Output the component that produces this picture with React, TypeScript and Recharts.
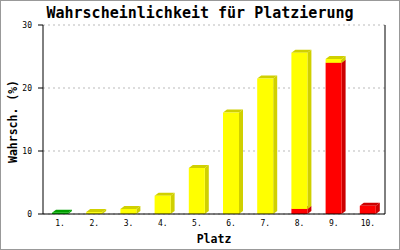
import React from "react";
import { BarChart, Bar, XAxis, YAxis, CartesianGrid } from "recharts";

const places = ["1.", "2.", "3.", "4.", "5.", "6.", "7.", "8.", "9.", "10."];
const redValues = [0, 0, 0, 0, 0, 0, 0, 0.8, 24.0, 1.3];
const yellowValues = [0, 0.3, 0.8, 2.9, 7.3, 16.1, 21.5, 24.8, 0.6, 0];
const greenValues = [0.2, 0, 0, 0, 0, 0, 0, 0, 0, 0];
const yTicks = [0, 10, 20, 30];

const data = places.map((p, i) => ({
  place: p,
  red: redValues[i],
  yellow: yellowValues[i],
  green: greenValues[i],
}));

const DX = 4;
const DY = 3;

function make3D(front: string, dark: string) {
  return (props: any) => {
    const { x, y, width, height } = props;
    if (!height || height < 0.3) return <g />;
    const w = width;
    const side = `${x + w},${y + height} ${x + w + DX},${y + height - DY} ${x + w + DX},${y - DY} ${x + w},${y}`;
    const top = `${x},${y} ${x + DX},${y - DY} ${x + w + DX},${y - DY} ${x + w},${y}`;
    return (
      <g>
        <polygon points={side} fill={dark} />
        <polygon points={top} fill={dark} />
        <rect x={x} y={y} width={w} height={height} fill={front} />
      </g>
    );
  };
}

const mono = "'DejaVu Sans Mono', 'Liberation Mono', monospace";

const YLabel = (props: any) => {
  const vb = props.viewBox || {};
  const cy = (vb.y ?? 25) + (vb.height ?? 189) / 2 + 2;
  return (
    <text
      x={13}
      y={cy}
      transform={`rotate(-90, 13, ${cy})`}
      textAnchor="middle"
      dominantBaseline="central"
      fontFamily={mono}
      fontWeight="bold"
      fontSize={11.5}
      fill="#000"
    >
      Wahrsch. (%)
    </text>
  );
};

const XLabel = (props: any) => {
  const vb = props.viewBox || {};
  const cx = (vb.x ?? 43) + (vb.width ?? 342) / 2;
  return (
    <text
      x={cx}
      y={243}
      textAnchor="middle"
      fontFamily={mono}
      fontWeight="bold"
      fontSize={11.5}
      fill="#000"
    >
      Platz
    </text>
  );
};

export default function App() {
  return (
    <div style={{ position: "absolute", left: 0, top: 0, width: 400, height: 250, background: "#fff" }}>
      <BarChart
        width={400}
        height={250}
        data={data}
        margin={{ top: 25, right: 0, bottom: 0, left: 0 }}
        barSize={16}
      >
        <CartesianGrid vertical={false} stroke="#bbbbbb" strokeDasharray="2 3" />
        <XAxis
          dataKey="place"
          height={36}
          tickLine={false}
          tickSize={6}
          tickMargin={0}
          axisLine={{ stroke: "#000" }}
          tick={{ fontFamily: mono, fontSize: 8, fill: "#000" }}
          interval={0}
          label={<XLabel />}
        />
        <YAxis
          width={43}
          domain={[0, 30]}
          ticks={yTicks}
          tickSize={5}
          tickMargin={6}
          axisLine={{ stroke: "#000" }}
          tickLine={{ stroke: "#000" }}
          tick={{ fontFamily: mono, fontSize: 8, fill: "#000" }}
          label={<YLabel />}
        />
        <YAxis
          yAxisId="right"
          orientation="right"
          width={15}
          domain={[0, 30]}
          tick={false}
          tickLine={false}
          axisLine={{ stroke: "#000" }}
        />
        <Bar dataKey="red" stackId="a" isAnimationActive={false} shape={make3D("#ff0000", "#cc0000")} />
        <Bar dataKey="yellow" stackId="a" isAnimationActive={false} shape={make3D("#ffff00", "#d0d000")} />
        <Bar dataKey="green" stackId="a" isAnimationActive={false} shape={make3D("#00cc00", "#00a000")} />
      </BarChart>
      <svg
        width={400}
        height={250}
        style={{ position: "absolute", left: 0, top: 0, pointerEvents: "none" }}
      >
        <text
          x={200}
          y={18}
          textAnchor="middle"
          fontFamily={mono}
          fontWeight="bold"
          fontSize={15}
          fill="#000"
        >
          Wahrscheinlichkeit für Platzierung
        </text>
        <rect x={0.5} y={0.5} width={399} height={249} fill="none" stroke="#999999" />
      </svg>
    </div>
  );
}
